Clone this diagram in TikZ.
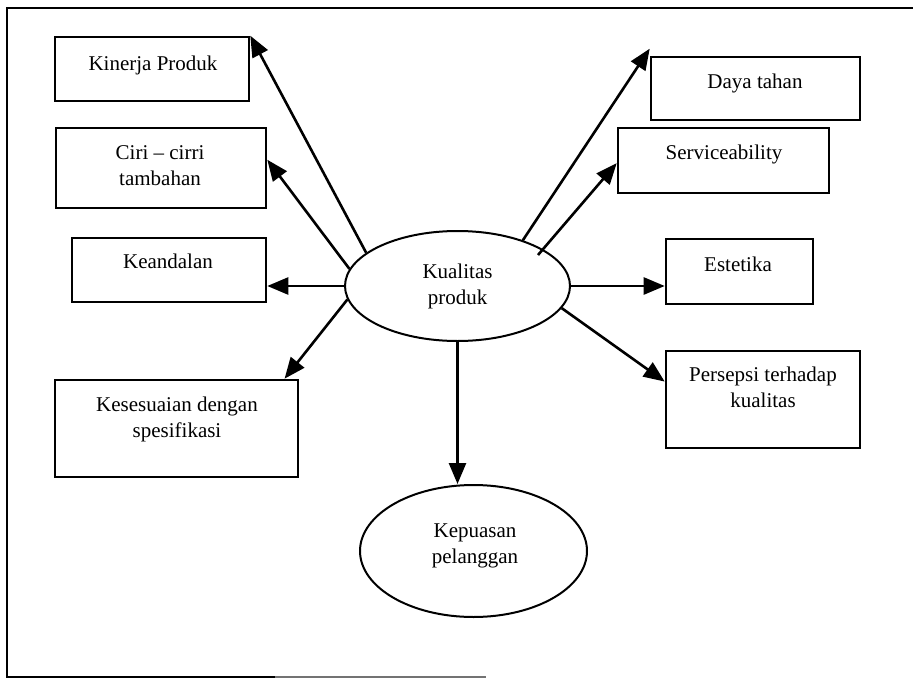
\documentclass[tikz,border=0pt]{standalone}
\usepackage{fontspec}
\setmainfont{Liberation Serif}
\usetikzlibrary{arrows.meta,calc,shapes.geometric}
\tikzset{
  box/.style={draw, line width=2.6pt, rectangle, inner sep=0pt},
  oval/.style={draw, line width=2pt, ellipse, inner sep=0pt},
  lbl/.style={inner sep=0pt, align=center, font=\fontsize{21}{26}\selectfont},
  arr/.style={line width=2.6pt, -{Triangle[length=21pt,width=17pt]}},
}
\begin{document}
\begin{tikzpicture}[x=1pt, y=-1pt]
\useasboundingbox (0,0) rectangle (913,680);
% outer frame
\draw[line width=2.6pt] (913,8) -- (7,8) -- (7,677) -- (275,677);
\draw[line width=1.8pt, black!55] (275,677) -- (486,677);

% boxes
\node[box, minimum width=194pt, minimum height=64pt] (kin) at (152,69) {};
\node[box, minimum width=210pt, minimum height=80pt] (ciri) at (161,168) {};
\node[box, minimum width=194pt, minimum height=64pt] (kean) at (169,270) {};
\node[box, minimum width=243pt, minimum height=97pt] (kes) at (176.5,428.5) {};
\node[box, minimum width=209pt, minimum height=63pt] (daya) at (755.5,88.5) {};
\node[box, minimum width=211pt, minimum height=65pt] (serv) at (723.5,160.5) {};
\node[box, minimum width=147pt, minimum height=65pt] (este) at (739.5,271.5) {};
\node[box, minimum width=194pt, minimum height=97pt] (pers) at (763,399.5) {};

% labels
\node[lbl] (tkin) at (153,64.8) {\strut Kinerja Produk};
\node[lbl] (tciri) at (160,166.8) {\strut Ciri – cirri\\\strut tambahan};
\node[lbl] (tkean) at (168,262.8) {\strut Keandalan};
\node[lbl] (tkes) at (177,418.8) {\strut Kesesuaian dengan\\\strut spesifikasi};
\node[lbl] (tdaya) at (755,82.8) {\strut Daya tahan};
\node[lbl] (tserv) at (724,153.8) {\strut Serviceability};
\node[lbl] (teste) at (738,265.8) {\strut Estetika};
\node[lbl] (tpers) at (763,389.3) {\strut Persepsi terhadap\\\strut kualitas};

% ellipses
\node[oval, minimum width=225pt, minimum height=110pt] (kual) at (457.5,286) {};
\node[lbl] (tkual) at (457.5,286.3) {\strut Kualitas\\\strut produk};
\node[oval, minimum width=227pt, minimum height=132pt] (kep) at (473.5,551) {};
\node[lbl] (tkep) at (475,544.8) {\strut Kepuasan\\\strut pelanggan};

% connectors
\coordinate (servstart) at ($(kual.center)+(80.5,-31)$);
\draw[arr] (kual.160.9) -- (kin.north east);
\draw[arr] (kual.171.9) -- ($(ciri.north east)!0.4!(ciri.south east)$);
\draw[arr] (kual.west) -- (kual.west -| kean.east);
\draw[arr] (kual.187.2) -- ($(kes.north west)!0.94!(kes.north east)$);
\draw[arr] (kual.south) -- (kual.south |- kep.north);
\draw[arr] (kual.348.4) -- ($(pers.north west)!0.32!(pers.south west)$);
\draw[arr] (kual.east) -- (kual.east -| este.west);
\draw[arr] (servstart) -- ($(serv.north west)!0.54!(serv.south west)$);
\draw[arr] (kual.35.1) -- ($(daya.north west)+(0,-7)$);
\end{tikzpicture}
\end{document}
